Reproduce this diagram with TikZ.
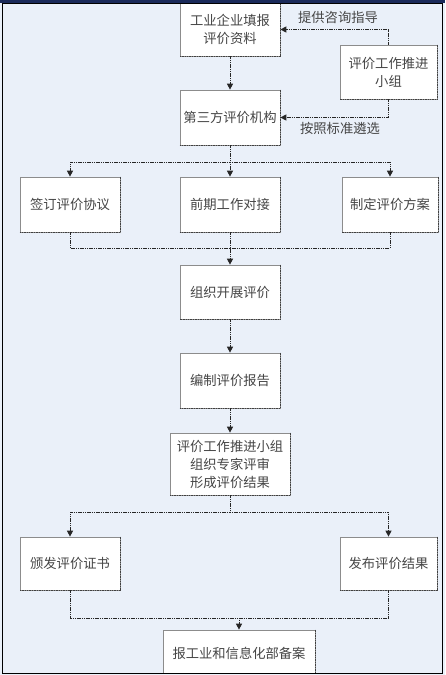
\documentclass[tikz,border=0pt]{standalone}
\usepackage{fontspec}
\newfontfamily\cjk{Noto Sans CJK SC}
\usetikzlibrary{arrows.meta}
\definecolor{bg}{HTML}{EAF0F9}
\definecolor{navy}{HTML}{1A2A5A}
\definecolor{txt}{HTML}{454545}
\tikzset{
  box/.style={draw=black!45, line width=0.7pt, fill=white, inner sep=0pt,
    align=center, text=txt, font=\cjk\fontsize{13.3}{18}\selectfont},
  shade edge/.style={draw=black!75, dash pattern=on 1pt off 0.7pt, line width=1pt},
  conn/.style={draw=black!85, dash pattern=on 1.2pt off 0.6pt, line width=1pt},
  arr/.style={conn, -{Triangle[length=6pt,width=6pt]}},
  lbl/.style={text=txt, font=\cjk\fontsize{13.3}{16}\selectfont, inner sep=0pt}
}
\begin{document}
\begin{tikzpicture}[x=1pt,y=-1pt]
\useasboundingbox (0,0) rectangle (445,675);
\fill[bg] (0,0) rectangle (445,675);

\node[box, minimum width=100pt, minimum height=53pt] (n1) at (230,29.5) {工业企业填报\\评价资料};
\node[box, minimum width=97pt, minimum height=54pt] (grp) at (388.5,72) {评价工作推进\\小组};
\node[box, minimum width=100pt, minimum height=55pt] (third) at (230,117.5) {第三方评价机构};
\node[box, minimum width=100pt, minimum height=55pt] (a) at (70,204.5) {签订评价协议};
\node[box, minimum width=100pt, minimum height=55pt] (b) at (230,204.5) {前期工作对接};
\node[box, minimum width=96pt, minimum height=55pt] (c) at (390,204.5) {制定评价方案};
\node[box, minimum width=100pt, minimum height=54pt] (org) at (230,292) {组织开展评价};
\node[box, minimum width=100pt, minimum height=55pt] (rep) at (230,380.5) {编制评价报告};
\node[box, minimum width=120pt, minimum height=62pt] (rev) at (230,464) {评价工作推进小组\\组织专家评审\\形成评价结果};
\node[box, minimum width=100pt, minimum height=53pt] (cert) at (70,563.5) {颁发评价证书};
\node[box, minimum width=97pt, minimum height=53pt] (pub) at (388.5,563.5) {发布评价结果};
\node[box, minimum width=152pt, minimum height=46pt] (final) at (239,653) {报工业和信息化部备案};

\foreach \n in {n1,grp,third,a,b,c,org,rep,rev,cert,pub,final}
  \draw[shade edge] (\n.north east) -- (\n.south east) -- (\n.south west);

\node[lbl] (l1) at (338,18) {提供咨询指导};
\node[lbl] (l2) at (340,128) {按照标准遴选};

\draw[arr] (n1.south) -- (third.north);
\draw[arr] (grp.north) |- (n1.east);
\draw[arr] (grp.south) |- (third.east);

\coordinate (s1) at (230,162);
\draw[conn] (third.south) -- (s1);
\draw[arr] (s1) -| (a.north);
\draw[arr] (s1) -- (b.north);
\draw[arr] (s1) -| (c.north);

\coordinate (m1) at (230,248);
\draw[conn] (a.south) |- (m1);
\draw[conn] (c.south) |- (m1);
\draw[arr] (b.south) -- (org.north);
\draw[arr] (org.south) -- (rep.north);
\draw[arr] (rep.south) -- (rev.north);

\coordinate (s2) at (230,512);
\draw[conn] (rev.south) -- (s2);
\draw[arr] (s2) -| (cert.north);
\draw[arr] (s2) -| (pub.north);

\coordinate (m2) at (239,618);
\draw[conn] (cert.south) |- (m2);
\draw[conn] (pub.south) |- (m2);
\draw[arr] (m2) -- (final.north);

\fill[bg] (0,674) rectangle (445,675);
\draw[black, line width=1.5pt] (2.5,3) rectangle (442.5,673.5);
\fill[navy] (0,0) rectangle (445,3);
\end{tikzpicture}
\end{document}
